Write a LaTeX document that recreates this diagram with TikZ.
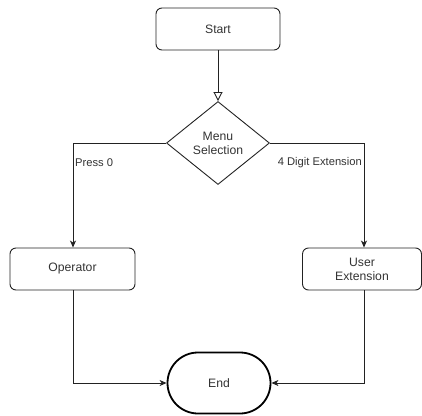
\documentclass[tikz,border=0pt]{standalone}
\usepackage{fontspec}
\setmainfont{Liberation Sans}
\usetikzlibrary{arrows.meta,shapes.geometric,shapes.misc}
\definecolor{ln}{HTML}{222222}
\definecolor{tx}{HTML}{333333}
\tikzset{
  x=1pt,y=-1pt,
  every node/.style={text=tx,font=\fontsize{12.2}{14}\selectfont},
  procbox/.style={draw=ln,line width=0.9pt,rounded corners=6pt,minimum width=#1,minimum height=42pt,inner sep=1pt,align=center},
  decbox/.style={draw=ln,line width=0.9pt,diamond,minimum width=103pt,minimum height=83pt,inner sep=0pt,align=center},
  termbox/.style={draw=black,line width=1.8pt,rounded rectangle,minimum width=105pt,minimum height=61pt,inner sep=1pt},
  conn/.style={draw=ln,line width=0.9pt,-{Stealth[length=7pt,width=6pt,inset=2pt]}},
  openconn/.style={draw=ln,line width=0.9pt,-{Triangle[open,length=9pt,width=9pt]}},
  elabel/.style={font=\fontsize{11.2}{13}\selectfont,inner sep=0pt}
}
\begin{document}
\begin{tikzpicture}
\useasboundingbox (0,0) rectangle (422,415);
\node[procbox=124pt] (start) at (218,29) {Start};
\node[decbox] (menu) at (218,143) {Menu\\Selection};
\node[procbox=125pt] (op) at (72.5,269) {Operator};
\node[procbox=119pt] (ue) at (362,269) {User\\Extension};
\node[termbox] (end) at (219,383) {End};
\coordinate (lc) at (73,143);
\coordinate (rc) at (364,143);
\draw[openconn] (start) -- (menu);
\draw[conn] (menu.west) -- (lc) -- (op.north -| lc);
\draw[conn] (menu.east) -- (rc) -- (ue.north -| rc);
\draw[conn] (op.south -| lc) |- (end.west);
\draw[conn] (ue.south -| rc) |- (end.east);
\node[elabel,anchor=west] (l1) at (75,163) {Press 0};
\node[elabel,anchor=east] (l2) at (362,163) {4 Digit Extension};
\end{tikzpicture}
\end{document}
